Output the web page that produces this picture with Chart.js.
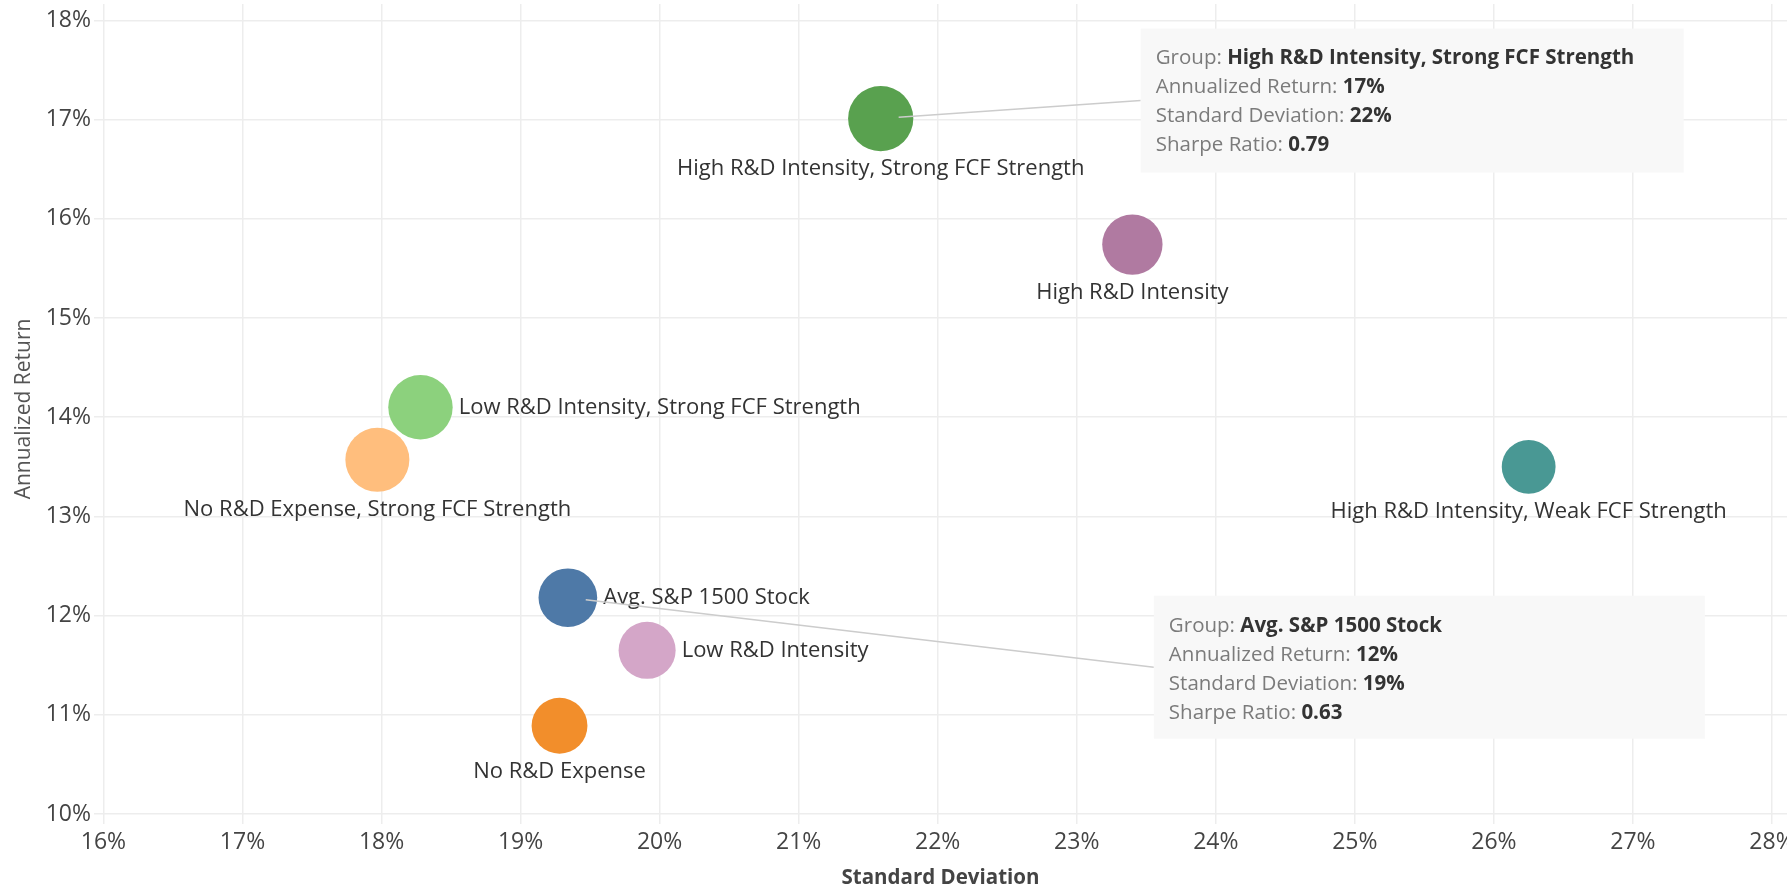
<!DOCTYPE html>
<html>
<head>
<meta charset="utf-8">
<title>Annualized Return vs Standard Deviation</title>
<script src="https://cdn.jsdelivr.net/npm/chart.js@4.4.1/dist/chart.umd.min.js"></script>
<style>
  html, body { margin: 0; padding: 0; background: #ffffff; }
  #wrap { position: relative; width: 1787px; height: 890px; }
</style>
</head>
<body>
<div id="wrap"><canvas id="riskChart"></canvas></div>
<script>
// data
const groups = [
  'High R&D Intensity, Strong FCF Strength',
  'High R&D Intensity',
  'Low R&D Intensity, Strong FCF Strength',
  'No R&D Expense, Strong FCF Strength',
  'High R&D Intensity, Weak FCF Strength',
  'Avg. S&P 1500 Stock',
  'Low R&D Intensity',
  'No R&D Expense'
]
const stdDev    = [21.59, 23.40, 18.28, 17.97, 26.25, 19.34, 19.91, 19.28]
const annReturn = [17.01, 15.74, 14.10, 13.57, 13.50, 12.18, 11.65, 10.89]
const sharpe    = [0.79, 0.67, 0.77, 0.76, 0.51, 0.63, 0.59, 0.56]

const xTicks = [16, 17, 18, 19, 20, 21, 22, 23, 24, 25, 26, 27, 28]
const yTicks = [10, 11, 12, 13, 14, 15, 16, 17, 18]

// styles
const colors = ['#59a14f', '#b07aa1', '#8cd17d', '#ffbe7d', '#499894', '#4e79a7', '#d4a6c8', '#f28e2b']
const labelSide = ['below', 'below', 'right', 'below', 'below', 'right', 'right', 'below']

// pinned tooltips (index of group, offset of box from the mark, box size)
const callouts = [
  { index: 0, dx: 260, dy: -90, w: 543, h: 144 },
  { index: 5, dx: 586, dy: -2,  w: 551, h: 143 }
]

const FONT = "'Open Sans', sans-serif"
const GRID = '#ededed'

// size encoding: sharpe ratio -> bubble radius
const sizeFor = (s) => 16.5 + 20.4 * s

Chart.defaults.font.family = FONT

// labels next to / under each bubble
const markLabels = {
  id: 'markLabels',
  afterDatasetsDraw(chart) {
    const ctx = chart.ctx
    const meta = chart.getDatasetMeta(0)
    ctx.save()
    ctx.font = '22px ' + FONT
    ctx.fillStyle = '#333333'
    ctx.textBaseline = 'middle'
    meta.data.forEach((el, i) => {
      const r = el.options.radius
      if (labelSide[i] === 'right') {
        ctx.textAlign = 'left'
        ctx.fillText(groups[i], el.x + r + 6, el.y)
      } else {
        ctx.textAlign = 'center'
        ctx.fillText(groups[i], el.x, el.y + r + 18)
      }
    })
    ctx.restore()
  }
}

// tooltip boxes pinned to two marks
const pinnedTips = {
  id: 'pinnedTips',
  afterDatasetsDraw(chart) {
    const ctx = chart.ctx
    const meta = chart.getDatasetMeta(0)
    ctx.save()
    callouts.forEach(c => {
      const el = meta.data[c.index]
      const i = c.index
      const bx = el.x + c.dx
      const by = el.y + c.dy
      const ex = bx
      const ey = by + c.h / 2

      // connector line, starting a little off the mark centre
      const len = Math.hypot(ex - el.x, ey - el.y)
      const sx = el.x + (ex - el.x) / len * 18
      const sy = el.y + (ey - el.y) / len * 18
      ctx.strokeStyle = '#cccccc'
      ctx.lineWidth = 1.5
      ctx.beginPath()
      ctx.moveTo(sx, sy)
      ctx.lineTo(ex, ey)
      ctx.stroke()

      ctx.fillStyle = '#f8f8f8'
      ctx.fillRect(bx, by, c.w, c.h)

      const lines = [
        ['Group: ', groups[i]],
        ['Annualized Return: ', Math.round(annReturn[i]) + '%'],
        ['Standard Deviation: ', Math.round(stdDev[i]) + '%'],
        ['Sharpe Ratio: ', sharpe[i].toFixed(2)]
      ]
      ctx.textAlign = 'left'
      ctx.textBaseline = 'middle'
      lines.forEach((ln, k) => {
        const ty = by + 30 + k * 29
        ctx.font = '20.5px ' + FONT
        ctx.fillStyle = '#7b7b7b'
        ctx.fillText(ln[0], bx + 15, ty)
        const w = ctx.measureText(ln[0]).width
        ctx.font = 'bold 20.5px ' + FONT
        ctx.fillStyle = '#333333'
        ctx.fillText(ln[1], bx + 15 + w, ty)
      })
    })
    ctx.restore()
  }
}

const points = groups.map((g, i) => ({ x: stdDev[i], y: annReturn[i], r: sizeFor(sharpe[i]) }))

const ctx = document.getElementById('riskChart').getContext('2d')

new Chart(ctx, {
  type: 'bubble',
  data: {
    datasets: [{
      label: 'Groups',
      data: points,
      backgroundColor: colors,
      borderWidth: 0,
      hoverBorderWidth: 0
    }]
  },
  options: {
    responsive: true,
    maintainAspectRatio: false,
    animation: false,
    events: [],
    layout: { autoPadding: false, padding: { top: 4, right: 0, bottom: 0, left: 0 } },
    plugins: {
      legend: { display: false },
      tooltip: { enabled: false }
    },
    scales: {
      x: {
        type: 'linear',
        min: 15.932,
        max: 28.108,
        afterBuildTicks: (s) => { s.ticks = xTicks.map(v => ({ value: v })) },
        afterFit: (s) => { s.height = 76; s.paddingLeft = 0; s.paddingRight = 0 },
        grid: { color: GRID, lineWidth: 1.5, drawTicks: true, tickLength: 10 },
        border: { display: false },
        ticks: {
          color: '#444444',
          font: { size: 23 },
          padding: 5,
          maxRotation: 0,
          callback: (v) => v + '%'
        },
        title: {
          display: true,
          text: 'Standard Deviation',
          color: '#444444',
          font: { size: 20.5, weight: 'bold' },
          padding: { top: 0, bottom: 0 }
        }
      },
      y: {
        type: 'linear',
        min: 10,
        max: 18.165,
        afterBuildTicks: (s) => { s.ticks = yTicks.map(v => ({ value: v })) },
        afterFit: (s) => { s.width = 94; s.paddingTop = 0; s.paddingBottom = 0 },
        grid: { color: GRID, lineWidth: 1.5, drawTicks: false },
        border: { display: false },
        ticks: {
          color: '#444444',
          font: { size: 23 },
          padding: 3,
          callback: (v) => v + '%'
        },
        title: {
          display: true,
          text: 'Annualized Return',
          color: '#555555',
          font: { size: 21 },
          padding: { top: 11, bottom: 0 }
        }
      }
    }
  },
  plugins: [markLabels, pinnedTips]
})
</script>
</body>
</html>
